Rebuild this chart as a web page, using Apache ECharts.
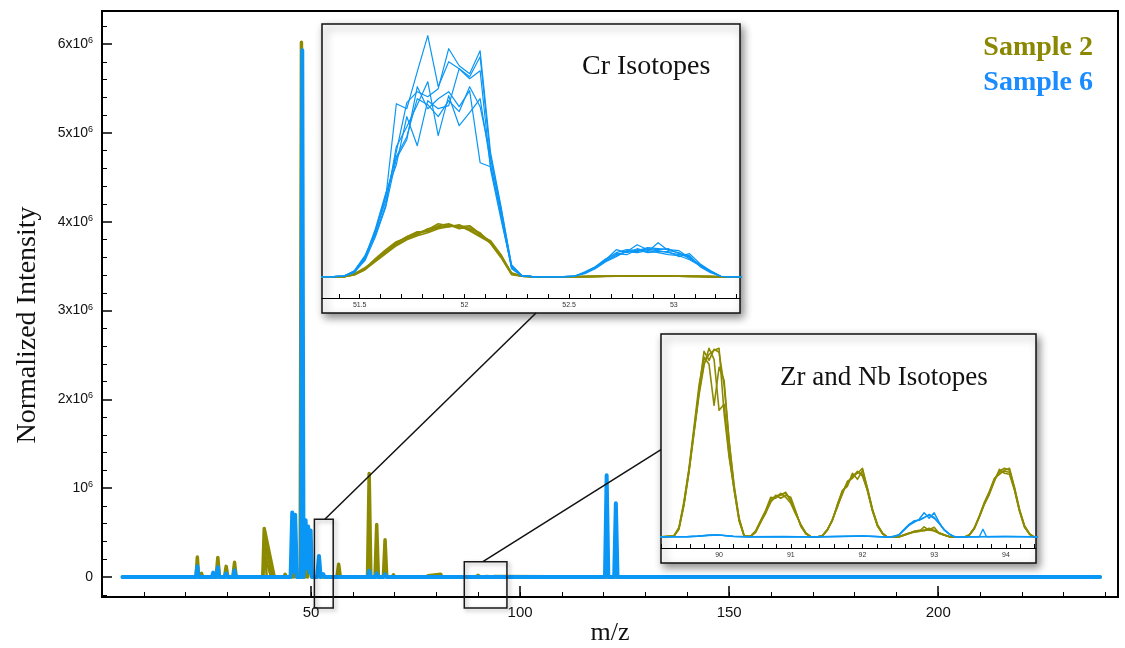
<!DOCTYPE html>
<html>
<head>
<meta charset="utf-8">
<script src="https://cdn.jsdelivr.net/npm/echarts@6/dist/echarts.min.js"></script>
<style>
  html, body { margin: 0; padding: 0; background: #fff; }
  #chart { width: 1125px; height: 648px; }
</style>
</head>
<body>
<div id="chart"></div>
<script>
// ---------------- Axis ticks ----------------
const xMajorTicks = [50, 100, 150, 200];
const xMinorTicks = [10, 20, 30, 40, 50, 60, 70, 80, 90, 100, 110, 120, 130, 140, 150, 160, 170, 180, 190, 200, 210, 220, 230, 240];
const yMajorTicks = [0, 1000000, 2000000, 3000000, 4000000, 5000000, 6000000];
const yMinorTicks = [-200000, 200000, 400000, 600000, 800000, 1200000, 1400000, 1600000, 1800000,
  2200000, 2400000, 2600000, 2800000, 3200000, 3400000, 3600000, 3800000, 4200000, 4400000,
  4600000, 4800000, 5200000, 5400000, 5600000, 5800000, 6200000];

const crTicks = [51.4, 51.5, 51.6, 51.7, 51.8, 51.9, 52.0, 52.1, 52.2, 52.3, 52.4, 52.5, 52.6, 52.7, 52.8, 52.9, 53.0, 53.1, 53.2, 53.3];
const crLabels = [51.5, 52, 52.5, 53];
const zrTicks = [89.2, 89.4, 89.6, 89.8, 90.0, 90.2, 90.4, 90.6, 90.8, 91.0, 91.2, 91.4, 91.6, 91.8, 92.0,
  92.2, 92.4, 92.6, 92.8, 93.0, 93.2, 93.4, 93.6, 93.8, 94.0, 94.2, 94.4];
const zrLabels = [90, 91, 92, 93, 94];

// ---------------- Full spectra (m/z, normalized intensity) ----------------
const sample2Main = [
  [4.9, 0], [22.5, 0], [22.8, 225000], [23.1, 0], [23.5, 0], [23.8, 40000], [24.1, 0],
  [27.3, 0], [27.7, 220000], [28.1, 0], [29.3, 0], [29.7, 120000], [30.1, 0],
  [31.3, 0], [31.7, 165000], [32.1, 0], [38.45, 0], [38.8, 545000], [41.2, 0],
  [43.5, 0], [43.8, 30000], [44.1, 0], [45.2, 0], [45.5, 260000], [45.8, 0],
  [46.0, 0], [46.3, 280000], [46.6, 0], [47.4, 0], [47.7, 6020000], [48.0, 0],
  [48.6, 0], [48.9, 300000], [49.2, 0], [49.6, 0], [49.9, 240000], [50.2, 0],
  [51.45, 0], [51.95, 53000], [52.3, 0], [56.2, 0], [56.6, 143000], [57.0, 0],
  [63.5, 0], [63.9, 1165000], [64.3, 0], [65.3, 0], [65.7, 590000], [66.1, 0],
  [67.3, 0], [67.7, 420000], [68.1, 0], [69.4, 0], [69.7, 25000], [70.0, 0],
  [77.5, 0], [78.0, 14000], [81.0, 32000], [81.3, 0],
  [89.4, 0], [89.95, 19000], [90.3, 0], [90.5, 0], [90.95, 4300], [91.3, 0],
  [91.5, 0], [91.95, 6500], [92.3, 0], [93.45, 0], [93.95, 6800], [94.35, 0],
  [120.4, 0], [120.7, 15000], [121.0, 0], [122.6, 0], [122.9, 12000], [123.2, 0],
  [238.7, 0]
];
// replicate scans around m/z 39 that tail off more slowly
const sample2KTails = [
  [[38.5, 0], [38.85, 430000], [39.4, 0]],
  [[38.5, 0], [38.9, 380000], [40.8, 0]],
  [[38.5, 0], [38.9, 260000], [40.4, 0]]
];
const sample6Main = [
  [4.9, 0], [22.5, 0], [22.8, 120000], [23.1, 0], [26.3, 0], [26.6, 50000], [26.9, 0],
  [27.4, 0], [27.7, 110000], [28.0, 0], [29.4, 0], [29.7, 40000], [30.0, 0],
  [31.4, 0], [31.7, 75000], [32.0, 0], [38.5, 0], [38.8, 20000], [39.1, 0],
  [45.1, 0], [45.5, 725000], [45.8, 60000], [46.2, 700000], [46.6, 0],
  [47.6, 0], [47.9, 5930000], [48.2, 0], [48.4, 0], [48.7, 640000], [49.0, 100000],
  [49.3, 570000], [49.6, 50000], [49.9, 525000], [50.2, 0],
  [51.45, 0], [51.9, 236000], [52.3, 0], [52.55, 0], [52.9, 33000], [53.25, 0],
  [63.6, 0], [63.9, 70000], [64.2, 0], [65.4, 0], [65.7, 40000], [66.0, 0],
  [67.4, 0], [67.7, 30000], [68.0, 0], [92.5, 0], [92.9, 2400], [93.3, 0],
  [120.3, 0], [120.7, 1145000], [121.1, 0], [122.5, 0], [122.9, 830000], [123.3, 0],
  [238.7, 0]
];

// zoom windows marked on the full spectrum: [mzFrom, mzTo, intensityFrom, intensityTo]
const crWindow = [50.8, 55.3, -350000, 650000];
const zrWindow = [86.65, 96.85, -350000, 172000];
const crLinkMz = 53.3;
const zrLinkMz = 91.1;

// ---------------- Cr isotopes (intensity x10^3) ----------------
const crGridLow = [51.375, 51.425, 51.475, 51.525, 51.575, 51.625, 51.675, 51.725, 51.775, 51.825,
  51.875, 51.925, 51.975, 52.025, 52.075, 52.125, 52.175, 52.225, 52.275, 52.325];
const crGridHigh = [52.475, 52.525, 52.575, 52.625, 52.675, 52.725, 52.775, 52.825, 52.875,
  52.925, 52.975, 53.025, 53.075, 53.125, 53.175, 53.225, 53.275];
const crSample6Low = [
  [0, 0.7, 5, 18, 44, 80, 173, 168, 205, 241, 190, 215, 208, 200, 220, 118, 65, 10, 1, 0],
  [0, 0.5, 4, 17, 46, 76, 125, 174, 185, 180, 188, 228, 211, 203, 226, 124, 70, 11, 1, 0],
  [0, 0.6, 6, 20, 42, 72, 130, 150, 172, 195, 141, 181, 151, 164, 178, 112, 60, 9, 0.5, 0],
  [0, 0.8, 5, 19, 48, 84, 112, 160, 131, 176, 168, 171, 208, 198, 206, 107, 57, 10, 1, 0],
  [0, 0.6, 5, 16, 40, 70, 118, 137, 190, 168, 178, 185, 170, 186, 114, 110, 62, 8, 0.6, 0],
  [0, 0.7, 6, 21, 45, 82, 120, 140, 178, 172, 160, 176, 165, 190, 170, 120, 68, 12, 1, 0]
];
const crSample6High = [
  [0, 0.5, 4, 9, 16, 22, 25, 32, 27, 26, 24, 22, 20, 11, 5, 0.3, 0],
  [0, 0.4, 4, 10, 17, 27, 24, 28, 25, 34, 26, 24, 18, 12, 6, 0.3, 0],
  [0, 0.6, 3, 8, 15, 20, 26, 25, 28, 27, 28, 23, 21, 10, 4, 0.4, 0],
  [0, 0.5, 5, 10, 18, 23, 22, 27, 24, 25, 25, 20, 23, 13, 6, 0.2, 0],
  [0, 0.5, 4, 9, 16, 21, 25, 24, 26, 24, 22, 21, 17, 11, 5, 0.3, 0],
  [0, 0.4, 4, 9, 17, 24, 27, 26, 29, 28, 27, 26, 19, 12, 5, 0.3, 0]
];
const crSample2Low = [
  [0, 0, 2, 7, 16, 26, 34, 40, 44, 47, 53, 51, 50, 51, 43, 35, 21, 3, 0.5, 0],
  [0, 0, 3, 8, 17, 24, 32, 38, 43, 46, 49, 52, 48, 50, 42, 34, 20, 4, 0.6, 0],
  [0, 0, 2, 8, 18, 27, 35, 39, 42, 48, 50, 50, 52, 47, 41, 36, 22, 3, 0.4, 0],
  [0, 0, 3, 9, 16, 25, 33, 40, 45, 45, 51, 53, 49, 48, 44, 33, 19, 2, 0.5, 0],
  [0, 0, 2, 7, 15, 23, 31, 37, 41, 44, 48, 50, 51, 46, 40, 34, 21, 3, 0.5, 0]
];
const crSample2High = [
  [0, 0, 0.1, 0.3, 0.4, 0.5, 0.6, 0.6, 0.7, 0.6, 0.6, 0.5, 0.4, 0.3, 0.1, 0, 0],
  [0, 0, 0.2, 0.3, 0.5, 0.6, 0.5, 0.7, 0.6, 0.7, 0.5, 0.4, 0.4, 0.2, 0.1, 0, 0],
  [0, 0, 0.1, 0.2, 0.4, 0.4, 0.6, 0.5, 0.6, 0.5, 0.6, 0.5, 0.3, 0.2, 0.1, 0, 0],
  [0, 0, 0.1, 0.3, 0.3, 0.5, 0.7, 0.6, 0.8, 0.6, 0.5, 0.4, 0.3, 0.3, 0.1, 0, 0],
  [0, 0, 0.2, 0.2, 0.4, 0.6, 0.6, 0.7, 0.6, 0.6, 0.4, 0.5, 0.3, 0.2, 0.1, 0, 0]
];

// ---------------- Zr and Nb isotopes (counts) ----------------
const zrGrid90 = [89.37, 89.44, 89.51, 89.58, 89.65, 89.72, 89.79, 89.86, 89.93, 90.00, 90.07, 90.14, 90.21, 90.28, 90.35];
const zrGrid91 = [90.37, 90.44, 90.51, 90.58, 90.65, 90.72, 90.79, 90.86, 90.93, 91.00, 91.07, 91.14, 91.21, 91.28, 91.35];
const zrGrid92 = [91.37, 91.44, 91.51, 91.58, 91.65, 91.72, 91.79, 91.86, 91.93, 92.00, 92.07, 92.14, 92.21, 92.28, 92.35];
const zrGrid93 = [92.37, 92.44, 92.51, 92.58, 92.65, 92.72, 92.79, 92.86, 92.93, 93.00, 93.07, 93.14, 93.21, 93.28, 93.35];
const zrGrid94 = [93.42, 93.49, 93.56, 93.63, 93.70, 93.77, 93.84, 93.91, 93.98, 94.05, 94.12, 94.19, 94.26, 94.33, 94.40];

const zrSample2Peak90 = [
  [130, 900, 3400, 6700, 10700, 14700, 18600, 17700, 18800, 18500, 15200, 9500, 5000, 1800, 130],
  [100, 800, 3200, 6500, 10400, 14200, 17200, 18900, 17800, 12700, 13300, 8300, 4700, 1600, 100],
  [150, 1000, 3600, 6900, 11000, 15200, 18000, 17300, 13200, 17000, 15700, 9700, 5200, 1900, 150],
  [120, 850, 3300, 6600, 10500, 14500, 17400, 18300, 18700, 18900, 12400, 8000, 4800, 1700, 120]
];
const zrSample2Peak91 = [
  [0, 100, 600, 1600, 2600, 3800, 4100, 4300, 4400, 3700, 2400, 1200, 400, 60, 0],
  [0, 80, 500, 1500, 2500, 3500, 4200, 3900, 4200, 4000, 2600, 1100, 350, 50, 0],
  [0, 120, 650, 1700, 2700, 4000, 3900, 4400, 4000, 3400, 2300, 1300, 450, 70, 0],
  [0, 90, 550, 1550, 2400, 3600, 4000, 4200, 4500, 3600, 2500, 1150, 380, 55, 0]
];
const zrSample2Peak92 = [
  [0, 150, 730, 1700, 3200, 4600, 5300, 6200, 6400, 6900, 4800, 2700, 1200, 400, 0],
  [0, 120, 700, 1800, 3100, 4300, 5600, 5900, 6500, 6300, 4600, 2600, 1100, 350, 0],
  [0, 170, 780, 1650, 3300, 4700, 5100, 6400, 5800, 6700, 4900, 2800, 1250, 420, 0],
  [0, 140, 750, 1750, 3000, 4500, 5500, 6000, 6600, 6100, 4700, 2650, 1150, 380, 0]
];
const zrSample2Peak93 = [
  [0, 0, 60, 230, 400, 560, 620, 720, 820, 700, 420, 230, 70, 0, 0],
  [0, 0, 50, 200, 380, 600, 700, 650, 750, 1000, 380, 200, 60, 0, 0],
  [0, 0, 70, 250, 420, 520, 580, 1050, 700, 650, 450, 250, 80, 0, 0],
  [0, 0, 40, 210, 390, 580, 650, 680, 900, 620, 400, 220, 65, 0, 0]
];
const zrSample2Peak94 = [
  [0, 230, 900, 2100, 3400, 4500, 5800, 6600, 6900, 6700, 4900, 2700, 1100, 330, 0],
  [0, 200, 850, 2000, 3300, 4300, 5600, 6800, 6400, 6300, 4700, 2600, 1000, 300, 0],
  [0, 250, 950, 2150, 3500, 4600, 5900, 6300, 6700, 6900, 5000, 2800, 1150, 350, 0],
  [0, 220, 880, 2050, 3350, 4400, 5700, 6500, 6600, 6500, 4800, 2650, 1050, 320, 0]
];
const zrSample6Peak93 = [
  [0, 100, 250, 750, 1250, 1600, 1750, 2000, 2200, 1900, 1400, 750, 330, 70, 0],
  [0, 80, 230, 700, 1200, 1500, 1800, 2450, 1900, 2450, 1500, 700, 300, 60, 0],
  [0, 120, 270, 800, 1300, 1650, 1700, 1950, 2300, 2000, 1350, 780, 350, 80, 0]
];
const zrSample6Before = [
  [[89.15, 40], [89.55, 60], [89.7, 110], [89.85, 200], [89.95, 230], [90.05, 190], [90.2, 90], [90.4, 40], [90.9, 70], [91.3, 30], [91.75, 90], [92.0, 130], [92.25, 60]],
  [[89.15, 60], [89.55, 70], [89.7, 130], [89.85, 220], [89.97, 260], [90.07, 170], [90.2, 100], [90.4, 50], [90.9, 60], [91.3, 50], [91.75, 80], [92.0, 120], [92.25, 50]],
  [[89.15, 50], [89.55, 50], [89.7, 100], [89.85, 180], [89.93, 210], [90.05, 200], [90.2, 80], [90.4, 50], [90.9, 80], [91.3, 40], [91.75, 100], [92.0, 140], [92.25, 70]]
];
const zrSample6After = [
  [[93.5, 40], [94.0, 80], [94.45, 50]],
  [[93.5, 50], [93.63, 50], [93.68, 800], [93.73, 50], [94.0, 70], [94.45, 50]],
  [[93.5, 60], [94.0, 90], [94.45, 40]]
];

// ---------------- Layout and colours ----------------
const GOLD = '#8c8a00';
const BLUE = '#0a96f5';
const GOLD_TEXT = '#8a8700';
const BLUE_TEXT = '#1a8cff';
const SERIF = '"Liberation Serif", "Times New Roman", serif';
const SANS = '"Liberation Sans", Arial, sans-serif';
const MAIN = { left: 102, top: 11, width: 1016, height: 586 };
const CR_BOX = { x: 322, y: 24, w: 418, h: 289, plotH: 274 };
const ZR_BOX = { x: 661, y: 334, w: 375, h: 229, plotH: 214 };

const zip = (xs, ys) => xs.map((x, i) => [x, ys[i]]);

function lineSeries(data, color, width, xi, z) {
  return {
    type: 'line', data: data, xAxisIndex: xi, yAxisIndex: xi, z: z,
    showSymbol: false, symbol: 'none', silent: true, animation: false, clip: true,
    lineStyle: { color: color, width: width, join: 'round', cap: 'round' }
  };
}

function yLabel(v) {
  if (v === 0) return '{b|0}';
  const m = Math.round(v / 1e6);
  return m === 1 ? '{b|10}{s|6}' : '{b|' + m + 'x10}{s|6}';
}

const series = [];
// full spectrum: sample 2 underneath, sample 6 on top
sample2KTails.forEach(t => series.push(lineSeries(t, GOLD, 2.5, 0, 2)));
series.push(lineSeries(sample2Main, GOLD, 3.5, 0, 2));
series.push(lineSeries(sample6Main, BLUE, 4, 0, 3));

// Cr inset
crSample2Low.forEach((v, i) => {
  const pts = [[51.2, 0]].concat(zip(crGridLow, v), zip(crGridHigh, crSample2High[i]), [[53.4, 0]]);
  series.push(lineSeries(pts, GOLD, 1.6, 2, 12));
});
crSample6Low.forEach((v, i) => {
  const pts = [[51.2, 0]].concat(zip(crGridLow, v), zip(crGridHigh, crSample6High[i]), [[53.4, 0]]);
  series.push(lineSeries(pts, BLUE, 1.2, 2, 13));
});

// Zr / Nb inset
zrSample2Peak90.forEach((v, i) => {
  const pts = [[89.1, 0]].concat(
    zip(zrGrid90, v), zip(zrGrid91, zrSample2Peak91[i]), zip(zrGrid92, zrSample2Peak92[i]),
    zip(zrGrid93, zrSample2Peak93[i]), zip(zrGrid94, zrSample2Peak94[i]), [[94.5, 0]]);
  series.push(lineSeries(pts, GOLD, 1.6, 3, 12));
});
zrSample6Peak93.forEach((v, i) => {
  const pts = zrSample6Before[i].concat(zip(zrGrid93, v), zrSample6After[i]);
  series.push(lineSeries(pts, BLUE, 1.4, 3, 13));
});

const chart = echarts.init(document.getElementById('chart'), null, { renderer: 'canvas' });

const insetLabel = { fontSize: 7, color: '#333', fontFamily: SANS, margin: 4 };

chart.setOption({
  animation: false,
  backgroundColor: '#fff',
  grid: [
    { left: MAIN.left, top: MAIN.top, width: MAIN.width, height: MAIN.height, show: true,
      borderColor: '#000', borderWidth: 2, backgroundColor: 'transparent' },
    { left: CR_BOX.x, top: CR_BOX.y, width: CR_BOX.w, height: CR_BOX.plotH },
    { left: ZR_BOX.x, top: ZR_BOX.y, width: ZR_BOX.w, height: ZR_BOX.plotH }
  ],
  xAxis: [
    { gridIndex: 0, type: 'value', position: 'bottom', min: 0, max: 243,
      axisLine: { show: true, onZero: false, lineStyle: { color: '#000', width: 2 } },
      splitLine: { show: false },
      axisTick: { inside: true, length: 11, customValues: xMajorTicks, lineStyle: { color: '#000', width: 1.5 } },
      axisLabel: { customValues: xMajorTicks, fontSize: 15, color: '#111', fontFamily: SANS, margin: 8 } },
    { gridIndex: 0, type: 'value', position: 'bottom', min: 0, max: 243,
      axisLine: { show: false, onZero: false }, splitLine: { show: false },
      axisTick: { inside: true, length: 5, customValues: xMinorTicks, lineStyle: { color: '#000', width: 1 } },
      axisLabel: { show: false } },
    { gridIndex: 1, type: 'value', position: 'bottom', min: 51.32, max: 53.316, z: 12,
      axisLine: { show: true, onZero: false, lineStyle: { color: '#000', width: 1.2 } },
      splitLine: { show: false },
      axisTick: { inside: true, length: 4, customValues: crTicks, lineStyle: { color: '#000', width: 1 } },
      axisLabel: Object.assign({ customValues: crLabels }, insetLabel) },
    { gridIndex: 2, type: 'value', position: 'bottom', min: 89.19, max: 94.42, z: 12,
      axisLine: { show: true, onZero: false, lineStyle: { color: '#000', width: 1.2 } },
      splitLine: { show: false },
      axisTick: { inside: true, length: 4, customValues: zrTicks, lineStyle: { color: '#000', width: 1 } },
      axisLabel: Object.assign({ customValues: zrLabels }, insetLabel) }
  ],
  yAxis: [
    { gridIndex: 0, type: 'value', position: 'left', min: -225000, max: 6372000,
      axisLine: { show: true, onZero: false, lineStyle: { color: '#000', width: 2 } },
      splitLine: { show: false },
      axisTick: { inside: true, length: 10, customValues: yMajorTicks, lineStyle: { color: '#000', width: 1.5 } },
      axisLabel: { customValues: yMajorTicks, formatter: yLabel, margin: 9,
        rich: {
          b: { fontSize: 14, lineHeight: 16, color: '#111', fontFamily: SANS },
          s: { fontSize: 9, lineHeight: 9, color: '#111', fontFamily: SANS, verticalAlign: 'top' }
        } } },
    { gridIndex: 0, type: 'value', position: 'left', min: -225000, max: 6372000,
      axisLine: { show: false, onZero: false }, splitLine: { show: false },
      axisTick: { inside: true, length: 5, customValues: yMinorTicks, lineStyle: { color: '#000', width: 1 } },
      axisLabel: { show: false } },
    { gridIndex: 1, type: 'value', min: -21.3, max: 252.7, show: false },
    { gridIndex: 2, type: 'value', min: -1070, max: 20330, show: false }
  ],
  series: series
});

// ---------------- Annotations: zoom windows, links, inset frames, text ----------------
const px = (x, y) => chart.convertToPixel({ xAxisIndex: 0, yAxisIndex: 0 }, [x, y]);

function windowRect(w) {
  const a = px(w[0], w[3]);
  const b = px(w[1], w[2]);
  return {
    type: 'rect', z: 20,
    shape: { x: a[0], y: a[1], width: b[0] - a[0], height: b[1] - a[1] },
    style: { fill: 'none', stroke: '#1a1a1a', lineWidth: 1.5,
      shadowBlur: 4, shadowColor: 'rgba(0,0,0,0.35)', shadowOffsetX: 2, shadowOffsetY: 2 }
  };
}
function insetFrame(b) {
  return {
    type: 'rect', z: 5,
    shape: { x: b.x, y: b.y, width: b.w, height: b.h },
    style: { fill: '#fff', stroke: '#111', lineWidth: 1.5,
      shadowBlur: 8, shadowColor: 'rgba(0,0,0,0.45)', shadowOffsetX: 3, shadowOffsetY: 4 }
  };
}

const crStart = px(crLinkMz, crWindow[3]);
const zrStart = px(zrLinkMz, zrWindow[3]);

chart.setOption({
  graphic: [
    insetFrame(CR_BOX),
    insetFrame(ZR_BOX),
    windowRect(crWindow),
    windowRect(zrWindow),
    { type: 'line', z: 20,
      shape: { x1: crStart[0], y1: crStart[1], x2: CR_BOX.x + CR_BOX.w * 0.512, y2: CR_BOX.y + CR_BOX.h },
      style: { stroke: '#111', lineWidth: 1.5 } },
    { type: 'line', z: 20,
      shape: { x1: zrStart[0], y1: zrStart[1], x2: ZR_BOX.x, y2: ZR_BOX.y + ZR_BOX.h * 0.505 },
      style: { stroke: '#111', lineWidth: 1.5 } },
    { type: 'text', z: 15,
      style: { text: 'Cr Isotopes', x: 582, y: 67, font: '28px ' + SERIF, fill: '#111',
        textAlign: 'left', textVerticalAlign: 'middle' } },
    { type: 'text', z: 15,
      style: { text: 'Zr and Nb Isotopes', x: 780, y: 378, font: '27px ' + SERIF, fill: '#111',
        textAlign: 'left', textVerticalAlign: 'middle' } },
    { type: 'text', z: 15,
      style: { text: 'Sample 2', x: 1093, y: 48, font: 'bold 28px ' + SERIF, fill: GOLD_TEXT,
        textAlign: 'right', textVerticalAlign: 'middle' } },
    { type: 'text', z: 15,
      style: { text: 'Sample 6', x: 1093, y: 83, font: 'bold 28px ' + SERIF, fill: BLUE_TEXT,
        textAlign: 'right', textVerticalAlign: 'middle' } },
    { type: 'text', z: 15,
      style: { text: 'm/z', x: MAIN.left + MAIN.width / 2, y: 633, font: '26px ' + SERIF, fill: '#111',
        textAlign: 'center', textVerticalAlign: 'middle' } },
    { type: 'text', z: 15, x: 28, y: 325, rotation: Math.PI / 2,
      style: { text: 'Normalized Intensity', x: 0, y: 0, font: '28px ' + SERIF, fill: '#111',
        textAlign: 'center', textVerticalAlign: 'middle' } }
  ]
});
</script>
</body>
</html>
